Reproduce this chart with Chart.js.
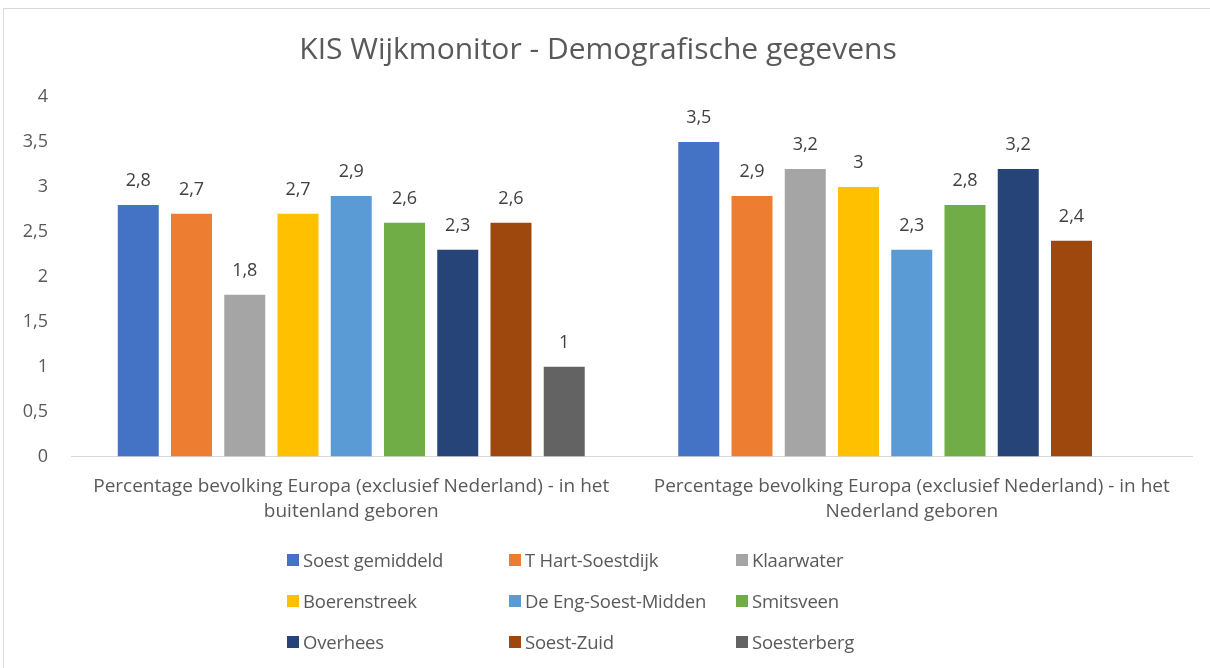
<!DOCTYPE html>
<html>
<head>
<meta charset="utf-8">
<script src="https://cdn.jsdelivr.net/npm/chart.js@4.4.1/dist/chart.umd.min.js"></script>
<style>
  html, body { margin: 0; padding: 0; background: #fff; }
  body { width: 1210px; height: 668px; overflow: hidden; font-family: 'Open Sans', sans-serif; }
  .frame { position: absolute; left: 3px; top: 8px; width: 1215px; height: 670px; border: 1px solid #d9d9d9; box-sizing: border-box; }
  .canvas-wrap { position: absolute; left: 0; top: 0; width: 1208px; height: 547px; }
  .legend { position: absolute; left: 283px; top: 530px; display: grid; grid-template-columns: 222px 227px 210px; grid-auto-rows: 41px; }
  .legend-item { display: flex; align-items: center; font-size: 18.5px; color: #595959; white-space: nowrap; letter-spacing: -0.2px; }
  .legend-item span.box { width: 12px; height: 12px; margin-right: 4px; display: inline-block; }
</style>
</head>
<body>
<div class="frame">
  <div class="canvas-wrap"><canvas id="chart"></canvas></div>
  <div class="legend" id="legend"></div>
</div>
<script>
const categories = [
  ['Percentage bevolking Europa (exclusief Nederland) - in het', 'buitenland geboren'],
  ['Percentage bevolking Europa (exclusief Nederland) - in het', 'Nederland geboren'],
];
const seriesNames = [
  'Soest gemiddeld', 'T Hart-Soestdijk', 'Klaarwater',
  'Boerenstreek', 'De Eng-Soest-Midden', 'Smitsveen',
  'Overhees', 'Soest-Zuid', 'Soesterberg',
];
const seriesColors = [
  '#4472C4', '#ED7D31', '#A5A5A5',
  '#FFC000', '#5B9BD5', '#70AD47',
  '#264478', '#9E480E', '#636363',
];
const soestGemiddeld = [2.8, 3.5];
const tHartSoestdijk = [2.7, 2.9];
const klaarwater = [1.8, 3.2];
const boerenstreek = [2.7, 3.0];
const deEngSoestMidden = [2.9, 2.3];
const smitsveen = [2.6, 2.8];
const overhees = [2.3, 3.2];
const soestZuid = [2.6, 2.4];
const soesterberg = [1.0, null];
const seriesValues = [
  soestGemiddeld, tHartSoestdijk, klaarwater,
  boerenstreek, deEngSoestMidden, smitsveen,
  overhees, soestZuid, soesterberg,
];

const fmt = (v) => String(v).replace('.', ',');

const valueLabels = {
  id: 'valueLabels',
  afterDatasetsDraw(chart) {
    const ctx = chart.ctx;
    ctx.save();
    ctx.font = '18px "Open Sans", sans-serif';
    ctx.fillStyle = '#404040';
    ctx.textAlign = 'center';
    ctx.textBaseline = 'middle';
    chart.data.datasets.forEach((ds, i) => {
      chart.getDatasetMeta(i).data.forEach((bar, j) => {
        const v = ds.data[j];
        if (v === null || v === undefined) return;
        ctx.fillText(fmt(v), bar.x, bar.y - 24);
      });
    });
    ctx.restore();
  },
};

const datasets = seriesNames.map((name, i) => ({
  label: name,
  data: seriesValues[i],
  backgroundColor: seriesColors[i],
  barPercentage: 0.77,
  categoryPercentage: 0.855,
}));

new Chart(document.getElementById('chart'), {
  type: 'bar',
  data: { labels: categories, datasets },
  plugins: [valueLabels],
  options: {
    responsive: true,
    maintainAspectRatio: false,
    animation: false,
    layout: { padding: { left: 0, right: 20, top: 0, bottom: 22 } },
    plugins: {
      legend: { display: false },
      tooltip: { enabled: false },
      title: {
        display: true,
        text: 'KIS Wijkmonitor - Demografische gegevens',
        color: '#595959',
        font: { family: "'Open Sans', sans-serif", size: 30, weight: 'normal' },
        padding: { top: 23, bottom: 29 },
      },
    },
    scales: {
      x: {
        grid: { display: false },
        border: { color: '#d9d9d9' },
        ticks: {
          color: '#595959',
          font: { family: "'Open Sans', sans-serif", size: 19, lineHeight: 1.3 },
          padding: 10,
          maxRotation: 0,
          autoSkip: false,
        },
      },
      y: {
        min: 0,
        max: 4,
        grid: { display: false },
        border: { display: false },
        ticks: {
          stepSize: 0.5,
          color: '#595959',
          font: { family: "'Open Sans', sans-serif", size: 18 },
          padding: 15,
          callback: (v) => fmt(v),
        },
        afterFit: (scale) => { scale.width = 67; },
      },
    },
  },
});

const legend = document.getElementById('legend');
seriesNames.forEach((name, i) => {
  const item = document.createElement('div');
  item.className = 'legend-item';
  item.innerHTML = `<span class="box" style="background:${seriesColors[i]}"></span>${name}`;
  legend.appendChild(item);
});
</script>
</body>
</html>
